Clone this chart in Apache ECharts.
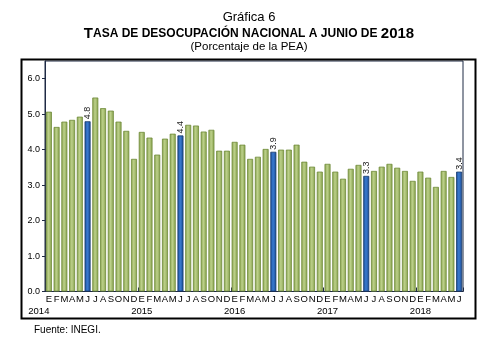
<!DOCTYPE html>
<html><head><meta charset="utf-8">
<script src="https://cdn.jsdelivr.net/npm/echarts@6/dist/echarts.min.js"></script>
<style>html,body{margin:0;padding:0;background:#fff}#c{width:498px;height:360px}</style>
</head><body><div id="c"></div>
<script>
const years = ['2014', '2015', '2016', '2017', '2018'];
const monthInitials = ['E', 'F', 'M', 'A', 'M', 'J', 'J', 'A', 'S', 'O', 'N', 'D'];
const values = [
  5.07, 4.64, 4.79, 4.84, 4.93, 4.80, 5.47, 5.17, 5.10, 4.79, 4.53, 3.74,
  4.50, 4.34, 3.86, 4.31, 4.45, 4.40, 4.70, 4.68, 4.51, 4.56, 3.97, 3.97,
  4.22, 4.14, 3.74, 3.80, 4.02, 3.94, 4.00, 4.00, 4.14, 3.66, 3.52, 3.38,
  3.60, 3.38, 3.18, 3.46, 3.57, 3.26, 3.40, 3.52, 3.60, 3.49, 3.40, 3.12,
  3.38, 3.21, 2.95, 3.40, 3.23, 3.38
];
const highlightMonth = 5; // junio
const yMin = 0, yMax = 6.5, yStep = 1;

const categories = values.map((v, i) => years[Math.floor(i / 12)] + '-' + (i % 12));
const font = 'Arial, "Liberation Sans", sans-serif';

function grad(edge, mid) {
  return new echarts.graphic.LinearGradient(0, 0, 1, 0, [
    {offset: 0, color: edge}, {offset: 0.45, color: mid}, {offset: 1, color: edge}
  ]);
}
const greenFill = grad('#86a04b', '#bcd08a');
const blueFill = grad('#1a4b95', '#3a7bd0');

const seriesData = values.map((v, i) => {
  if (i % 12 === highlightMonth) {
    return {
      value: v,
      itemStyle: {color: blueFill, borderColor: '#15386b', borderWidth: 0.8},
      label: {
        show: true, position: 'top', rotate: 90, align: 'left', verticalAlign: 'middle',
        distance: 2, fontSize: 9, fontFamily: font, color: '#222',
        formatter: p => p.value.toFixed(1)
      }
    };
  }
  return {value: v};
});

const chart = echarts.init(document.getElementById('c'), null, {renderer: 'canvas'});
chart.setOption({
  animation: false,
  backgroundColor: '#fff',
  title: [
    {text: 'Gráfica 6', left: 'center', top: 6,
     textStyle: {fontFamily: font, fontSize: 13, fontWeight: 'normal', color: '#000'}},
    {text: '{a|T}{b|ASA DE DESOCUPACIÓN NACIONAL A JUNIO DE }{a|2018}', left: 'center', top: 21,
     textStyle: {rich: {
       a: {fontFamily: font, fontSize: 15, fontWeight: 'bold', color: '#000'},
       b: {fontFamily: font, fontSize: 12, fontWeight: 'bold', color: '#000'}
     }}},
    {text: '(Porcentaje de la PEA)', left: 'center', top: 36,
     textStyle: {fontFamily: font, fontSize: 11.5, fontWeight: 'normal', color: '#000'}},
    {text: 'Fuente: INEGI.', left: 29, top: 320,
     textStyle: {fontFamily: font, fontSize: 10, fontWeight: 'normal', color: '#000'}}
  ],
  graphic: [{
    type: 'rect', left: 19, top: 57, shape: {width: 454, height: 259},
    style: {fill: 'none', stroke: '#000', lineWidth: 2}, silent: true
  }],
  grid: {left: 45, right: 35, top: 61, bottom: 68.5, show: true,
         borderColor: '#1f2a44', borderWidth: 1, backgroundColor: 'transparent'},
  xAxis: [{
    type: 'category', data: categories, boundaryGap: true,
    axisLine: {lineStyle: {color: '#1f2a44', width: 1}},
    axisTick: {show: true, inside: true, length: 4, interval: (i) => i % 12 === 0,
               lineStyle: {color: '#1f2a44'}},
    axisLabel: {interval: 0, margin: 3, fontFamily: font, fontSize: 9.5, color: '#000',
                formatter: (v, i) => monthInitials[i % 12]},
    splitLine: {show: false}
  }, {
    type: 'category', data: categories, boundaryGap: true, position: 'bottom', offset: 12,
    axisLine: {show: false}, axisTick: {show: false},
    axisLabel: {interval: 0, margin: 3, fontFamily: font, fontSize: 9.5, color: '#000',
      formatter: (v, i) => {
        if (i % 12 !== 0) return '';
        const y = years[i / 12];
        return i === 0 ? '{f|' + y + '}' : y;
      },
      rich: {f: {fontFamily: font, fontSize: 9.5, color: '#000', padding: [0, 20, 0, 0]}}
    },
    splitLine: {show: false}
  }],
  yAxis: {
    type: 'value', min: yMin, max: yMax, interval: yStep,
    axisLine: {show: true, lineStyle: {color: '#1f2a44', width: 1}},
    axisTick: {show: true, length: 3, lineStyle: {color: '#1f2a44'}},
    axisLabel: {showMaxLabel: false, margin: 5, fontFamily: font, fontSize: 9, color: '#000',
                formatter: v => (v % 1 === 0 ? v.toFixed(1) : '')},
    splitLine: {show: false}
  },
  series: [{
    type: 'bar', data: seriesData, barWidth: 6, xAxisIndex: 0,
    itemStyle: {color: greenFill, borderColor: '#6e8a38', borderWidth: 0.8}
  }]
});
</script>
</body></html>
